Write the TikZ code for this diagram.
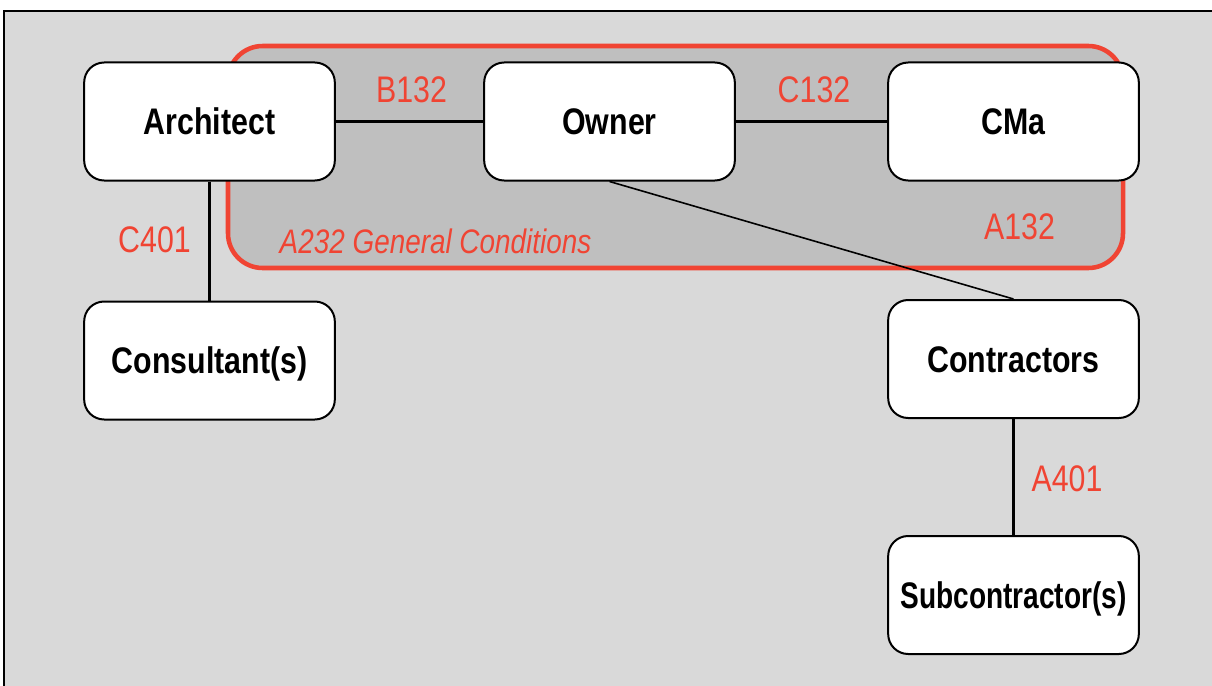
\documentclass[tikz,border=0pt]{standalone}
\usepackage{fontspec}
\usepackage{graphicx}
\usepackage{tikz}
\newfontfamily\narrowfont{Liberation Sans}[FakeStretch=0.82]
\definecolor{framegray}{HTML}{D9D9D9}
\definecolor{groupgray}{HTML}{BFBFBF}
\definecolor{formred}{HTML}{F04433}
\newcommand*{\bwd}{188pt}
\newcommand*{\bht}{88.5pt}
\newcommand*{\boxfont}{\narrowfont\bfseries\fontsize{27.75}{30}\selectfont}
\newcommand*{\formfont}{\narrowfont\fontsize{27.75}{30}\selectfont}

\begin{document}
\begin{tikzpicture}[x=0.75pt, y=-0.75pt,
    party/.style={draw, line width=1.5pt, fill=white, rounded corners=15pt,
        minimum width=\bwd, minimum height=\bht, text height=20pt, text depth=0pt,
        inner sep=0pt, font=\boxfont},
    form/.style={text=formred, inner sep=0pt, font=\formfont},
    link/.style={line width=2pt}]
    \useasboundingbox (0,0) rectangle (1212,685);
    \fill [framegray] (4,11) rectangle (1220,695);
    \draw [line width=1.5pt] (4,695) -- (4,11) -- (1220,11);
    \draw [formred, fill=groupgray, line width=3.4pt, rounded corners=26pt] (228,46) rectangle (1123,268);
        \node [party] (architect)  at ( 209.5,121.5) {Architect};
        \node [party] (owner)      at ( 609.5,121.5) {Owner};
        \node [party] (cma)        at (1013.5,121.5) {CMa};
        \node [party] (consultant) at ( 209.5,360.5) {Consultant(s)};
        \node [party] (contractor) at (1013.5,359.0) {Contractors};
        \node [party] (subcontractor) at (1013.5,595.0) {\scalebox{0.925}[1]{Subcontractor(s)}};
        \draw [link] (architect) -- (owner);
        \draw [link] (owner) -- (cma);
        \draw [link] (architect) -- (consultant);
        \draw [line width=1.2pt] (owner.south) -- (contractor.north);
        \draw [link] (contractor) -- (subcontractor);
        \node [form] (b132) at ( 411.5,90) {B132};
        \node [form] (c132) at ( 814.0,90) {C132};
        \node [form] (c401) at ( 154.5,240) {C401};
        \node [form] (a132) at (1019.5,227) {A132};
        \node [form] (a401) at (1067.0,479) {A401};
        \node [form, font=\narrowfont\itshape\fontsize{25.5}{28}\selectfont] (a232) at (435.5,241) {A232 General Conditions};
    \end{tikzpicture}
\end{document}
